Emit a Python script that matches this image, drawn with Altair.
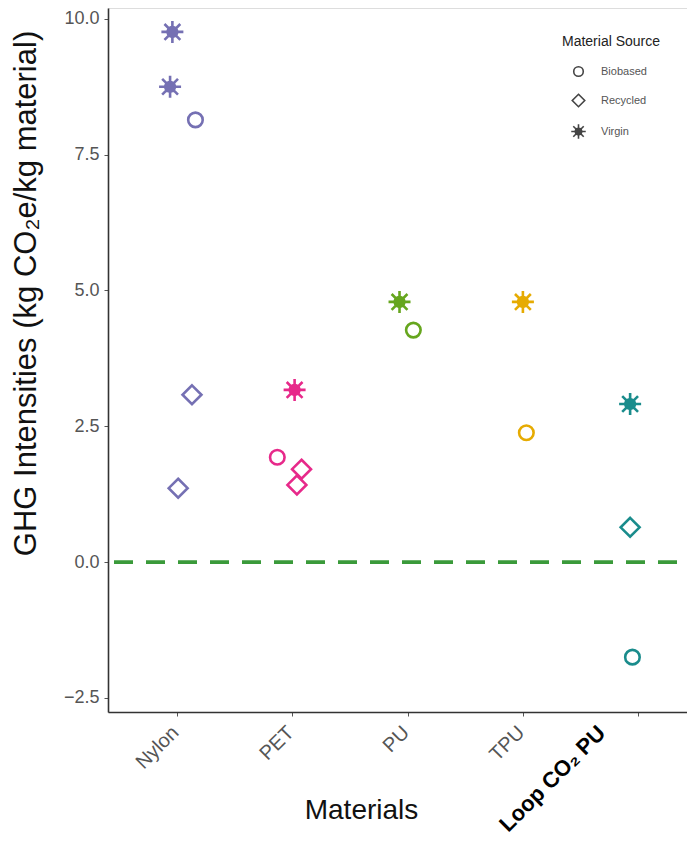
import altair as alt
import pandas as pd

# ---- data ----
material = ["Nylon", "Nylon", "Nylon", "Nylon", "Nylon",
            "PET", "PET", "PET", "PET",
            "PU", "PU",
            "TPU", "TPU",
            "Loop CO₂ PU", "Loop CO₂ PU", "Loop CO₂ PU"]
source = ["Virgin", "Virgin", "Biobased", "Recycled", "Recycled",
          "Virgin", "Biobased", "Recycled", "Recycled",
          "Virgin", "Biobased",
          "Virgin", "Biobased",
          "Virgin", "Recycled", "Biobased"]
ghg = [9.76, 8.75, 8.14, 3.08, 1.36,
       3.17, 1.93, 1.71, 1.42,
       4.79, 4.27,
       4.79, 2.38,
       2.91, 0.64, -1.75]
jitter = [-0.04, -0.06, 0.16, 0.13, 0.01,
          0.02, -0.13, 0.08, 0.04,
          -0.07, 0.05,
          0.00, 0.03,
          -0.07, -0.07, -0.05]

categories = ["Nylon", "PET", "PU", "TPU", "Loop CO₂ PU"]
mat_colors = ["#7570B3", "#E7298A", "#66A61E", "#E6AB02", "#1A8C8C"]
sources = ["Biobased", "Recycled", "Virgin"]
y_ticks = [-2.5, 0.0, 2.5, 5.0, 7.5, 10.0]

df = pd.DataFrame({"Material": material, "Source": source, "GHG": ghg, "jit": jitter})
df["pos"] = [categories.index(m) + 1 + j for m, j in zip(material, jitter)]

circle_path = "M0,-0.66A0.66,0.66 0 1,1 0,0.66A0.66,0.66 0 1,1 0,-0.66Z"
diamond_path = "M0,-0.86L0.86,0L0,0.86L-0.86,0Z"
star_path = ("M-1,0L1,0M0,-1L0,1M-0.72,-0.72L0.72,0.72M-0.72,0.72L0.72,-0.72"
             "M-0.51,-0.21L0.51,0.21M-0.51,0.21L0.51,-0.21"
             "M-0.21,-0.51L0.21,0.51M-0.21,0.51L0.21,-0.51")

label_expr = "['', 'Nylon', 'PET', 'PU', 'TPU', 'Loop CO₂ PU'][datum.value]"
is_loop = "datum.value == 5"

x_enc = alt.X(
    "pos:Q",
    scale=alt.Scale(domain=[0.4016, 5.4233], nice=False, zero=False),
    axis=alt.Axis(
        values=[1, 2, 3, 4, 5],
        labelExpr=label_expr,
        labelAngle=-45,
        labelAlign="right",
        labelBaseline="top",
        labelOverlap=False,
        labelBound=False,
        labelFontSize=alt.condition(is_loop, alt.value(22), alt.value(20)),
        labelPadding=6,
        labelOffset=alt.condition(is_loop, alt.value(-44), alt.value(-9)),
        labelColor=alt.condition(is_loop, alt.value("#000000"), alt.value("#555555")),
        labelFontWeight=alt.condition(is_loop, alt.value("bold"), alt.value("normal")),
        title="Materials",
        titleFontSize=28,
        titleFontWeight="normal",
        titleColor="#111111",
        titleX=253,
        titleY=98,
        titleBaseline="middle",
        grid=False,
        domainColor="#333333",
        domainWidth=1.6,
        tickColor="#555555",
        tickSize=4,
    ),
)

y_enc = alt.Y(
    "GHG:Q",
    scale=alt.Scale(domain=[-2.76, 10.2], nice=False, zero=False),
    axis=alt.Axis(
        values=y_ticks,
        format=".1f",
        labelFontSize=18,
        labelColor="#555555",
        labelPadding=5,
        title="GHG Intensities (kg CO₂e/kg material)",
        titleFontSize=31,
        titleFontWeight="normal",
        titleColor="#111111",
        titleAngle=-90,
        titleX=-82,
        titleY=285,
        titleAlign="center",
        titleBaseline="middle",
        grid=False,
        domainColor="#333333",
        domainWidth=1.6,
        tickColor="#555555",
        tickSize=4,
    ),
)

points = alt.Chart(df).mark_point(filled=False, strokeWidth=2.6, opacity=1, size=484).encode(
    x=x_enc,
    y=y_enc,
    color=alt.Color("Material:N", scale=alt.Scale(domain=categories, range=mat_colors), legend=None),
    shape=alt.Shape(
        "Source:N",
        scale=alt.Scale(domain=sources, range=[circle_path, diamond_path, star_path]),
        legend=alt.Legend(
            title="Material Source",
            orient="none",
            legendX=454,
            legendY=27,
            titleFontSize=14,
            titleFontWeight="normal",
            titleColor="#222222",
            titlePadding=14,
            labelFontSize=11,
            labelColor="#555555",
            labelOffset=14,
            symbolSize=210,
            symbolOffset=8,
            symbolStrokeColor="#444444",
            symbolFillColor="transparent",
            symbolStrokeWidth=1.6,
            rowPadding=11,
            padding=0,
        ),
    ),
)

zero_df = pd.DataFrame({"y0": [0.0]})
zero_line = alt.Chart(zero_df).mark_rule(
    color="#3A9A3A", strokeWidth=3.8, strokeDash=[19, 13], strokeDashOffset=-10
).encode(
    y=alt.Y("y0:Q", scale=alt.Scale(domain=[-2.76, 10.2], nice=False, zero=False))
)

chart = alt.layer(zero_line, points).properties(
    width=579,
    height=704,
    autosize=alt.AutoSizeParams(type="none"),
    padding={"left": 100, "top": 0, "right": 0, "bottom": 140},
).configure_view(stroke=None).configure(font="Liberation Sans")

chart.save("out.html", embed_options={"renderer": "svg", "actions": False})
